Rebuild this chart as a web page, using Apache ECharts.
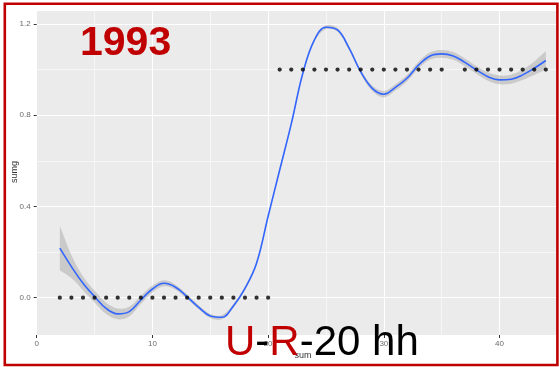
<!DOCTYPE html>
<html><head><meta charset="utf-8">
<script src="https://cdn.jsdelivr.net/npm/echarts@6/dist/echarts.min.js"></script>
<style>html,body{margin:0;padding:0;background:#fff}#c{width:559px;height:367px}</style>
</head><body><div id="c"></div>
<script>
// smoothed curve (x, fitted value, half-width of confidence band)
const curveX = [2,3,4,5,6,7,8,9,10,11,12,13,14,15,16,17,18,19,20,21,22,23,24,25,26,27,28,29,30,31,32,33,34,35,36,37,38,39,40,41,42,43,44];
const curveY = [0.217,0.136,0.063,0.005,-0.047,-0.071,-0.061,-0.01,0.038,0.063,0.046,0.004,-0.042,-0.08,-0.086,-0.036,0.041,0.151,0.357,0.56,0.762,0.984,1.13,1.186,1.174,1.094,0.991,0.918,0.892,0.922,0.962,1.02,1.06,1.069,1.06,1.032,0.999,0.969,0.955,0.958,0.977,1.006,1.04];
const curveSE = [0.098,0.05,0.03,0.026,0.025,0.024,0.021,0.018,0.015,0.013,0.011,0.01,0.009,0.009,0.009,0.008,0.008,0.008,0.008,0.008,0.008,0.008,0.008,0.008,0.008,0.009,0.01,0.012,0.014,0.014,0.014,0.015,0.016,0.017,0.017,0.017,0.017,0.018,0.019,0.02,0.023,0.03,0.04];
// observed points
const dotX = [2,3,4,5,6,7,8,9,10,11,12,13,14,15,16,17,18,19,20,21,22,23,24,25,26,27,28,29,30,31,32,33,34,35,37,38,39,40,41,42,43,44];
const dotY = [0,0,0,0,0,0,0,0,0,0,0,0,0,0,0,0,0,0,0,1,1,1,1,1,1,1,1,1,1,1,1,1,1,1,1,1,1,1,1,1,1,1];
// axes
const xMin = 0, xMax = 45, xMajor = 10, xMinor = 5;
const yMin = -0.1636, yMax = 1.2614, yMajor = 0.4, yMinor = 0.2;
const xTitle = 'sum', yTitle = 'sumg';
const yearText = '1993';

const chart = echarts.init(document.getElementById('c'), null, {renderer: 'canvas'});
const line = curveX.map((x, i) => [x, curveY[i]]);
const dots = dotX.map((x, i) => [x, dotY[i]]);
const FONT = '"Liberation Sans", Arial, sans-serif';
const lblStyle = {color: '#6b6b6b', fontSize: 8, fontFamily: FONT};

function renderBand(params, api) {
  if (params.dataIndex !== 0) return null;
  const n = curveX.length;
  const up = curveX.map((x, i) => api.coord([x, curveY[i] + curveSE[i]]));
  const lo = curveX.map((x, i) => api.coord([x, curveY[i] - curveSE[i]]));
  // end points doubled so the band ends are cut straight
  const pts = [up[0]].concat(up, [up[n - 1], lo[n - 1]], lo.slice().reverse(), [lo[0]]);
  return {type: 'polygon', shape: {points: pts, smooth: 0.35},
          style: {fill: 'rgba(153,153,153,0.4)', stroke: 'none'}, silent: true};
}

chart.setOption({
  animation: false,
  backgroundColor: '#ffffff',
  grid: {left: 36.7, right: 1.6, top: 10, bottom: 32, show: true, backgroundColor: '#EBEBEB', borderWidth: 0},
  xAxis: [
    {type: 'value', min: xMin, max: xMax, interval: xMajor, position: 'bottom',
     axisLine: {show: false, onZero: false}, axisTick: {show: true, length: 3, lineStyle: {color: '#333', width: 1}},
     axisLabel: Object.assign({margin: 5, showMaxLabel: false, formatter: v => String(v)}, lblStyle),
     splitLine: {show: true, lineStyle: {color: '#ffffff', width: 1.1}}, z: 1},
    {type: 'value', min: xMin, max: xMax, interval: xMinor, position: 'bottom',
     axisLine: {show: false, onZero: false}, axisTick: {show: false}, axisLabel: {show: false},
     splitLine: {show: true, lineStyle: {color: '#ffffff', width: 0.55}}, z: 0}
  ],
  yAxis: [
    {type: 'value', min: yMin, max: yMax, minInterval: yMajor, maxInterval: yMajor, position: 'left',
     axisLine: {show: false, onZero: false}, axisTick: {show: true, length: 3, lineStyle: {color: '#333', width: 1}},
     axisLabel: Object.assign({margin: 6, showMinLabel: false, showMaxLabel: false, formatter: v => v.toFixed(1)}, lblStyle),
     splitLine: {show: true, lineStyle: {color: '#ffffff', width: 1.1}}, z: 1},
    {type: 'value', min: yMin, max: yMax, minInterval: yMinor, maxInterval: yMinor, position: 'left',
     axisLine: {show: false, onZero: false}, axisTick: {show: false}, axisLabel: {show: false},
     splitLine: {show: true, lineStyle: {color: '#ffffff', width: 0.55}}, z: 0}
  ],
  series: [
    {type: 'custom', data: line, xAxisIndex: 0, yAxisIndex: 0, renderItem: renderBand, z: 2, silent: true},
    {type: 'line', data: line, xAxisIndex: 0, yAxisIndex: 0, smooth: 0.4, symbol: 'none',
     lineStyle: {color: '#3366FF', width: 1.6}, z: 3},
    {type: 'scatter', data: dots, xAxisIndex: 0, yAxisIndex: 0, symbol: 'circle', symbolSize: 4.2,
     itemStyle: {color: '#000000'}, z: 4}
  ],
  graphic: [
    {type: 'rect', shape: {x: 4.8, y: 3.8, width: 552.6, height: 361.2}, style: {fill: 'none', stroke: '#C00000', lineWidth: 2.6}, z: 100},
    {type: 'text', x: 80, y: 43.5, style: {text: yearText, fill: '#C00000', font: 'bold 41px ' + FONT, verticalAlign: 'middle'}, z: 100},
    {type: 'text', x: 303, y: 356, style: {text: xTitle, fill: '#333', font: '9px ' + FONT, align: 'center', verticalAlign: 'middle'}, z: 50},
    {type: 'text', x: 15, y: 172, rotation: Math.PI / 2, style: {text: yTitle, fill: '#333', font: '9px ' + FONT, align: 'center', verticalAlign: 'middle'}, z: 50},
    {type: 'text', x: 225, y: 343, style: {
      text: '{r|U}{k|-}{r|R}{k|-20 hh}', verticalAlign: 'middle',
      rich: {
        r: {fill: '#C00000', fontSize: 42, fontFamily: FONT},
        k: {fill: '#000000', fontSize: 42, fontFamily: FONT}
      }}, z: 100}
  ]
});
</script></body></html>
